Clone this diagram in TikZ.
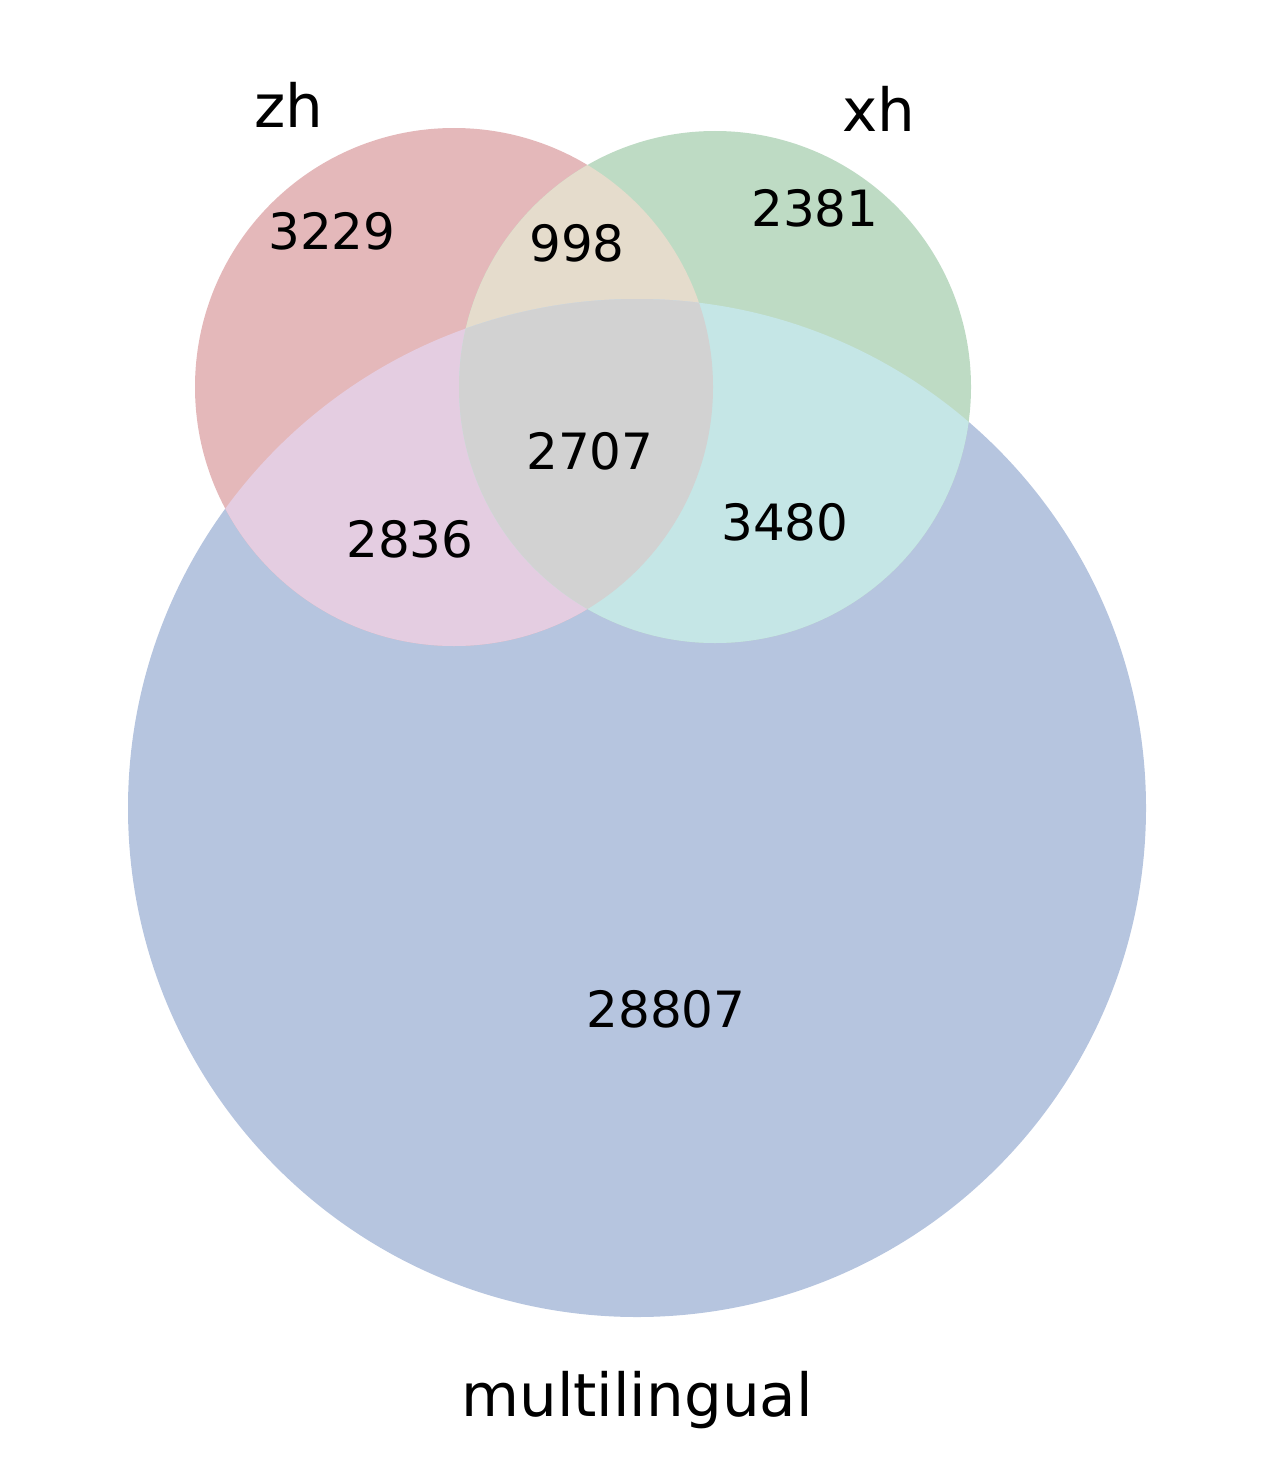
\documentclass[tikz,border=0pt]{standalone}
\usepackage{fontspec}
\setmainfont{DejaVu Sans}
\definecolor{czh}{HTML}{E4B8BA}
\definecolor{cxh}{HTML}{BEDBC4}
\definecolor{cml}{HTML}{B6C5DF}
\definecolor{czx}{HTML}{E5DCCC}
\definecolor{czm}{HTML}{E4CDE1}
\definecolor{cxm}{HTML}{C5E6E6}
\definecolor{call}{HTML}{D2D2D2}
\begin{document}
\begin{tikzpicture}[x=1pt,y=-1pt,
  num/.style={anchor=base,inner sep=0pt,font=\fontsize{50}{60}\selectfont},
  lab/.style={anchor=base,inner sep=0pt,font=\fontsize{59.5}{71}\selectfont}]
\useasboundingbox (0,0) rectangle (1275,1458);
\def\circZ{(454,387) circle[radius=259]}
\def\circX{(715,387) circle[radius=256]}
\def\circM{(637,808) circle[radius=509]}
\fill[cml] \circM;
\fill[czh] \circZ;
\fill[cxh] \circX;
\begin{scope}\clip \circZ; \fill[czx] \circX; \end{scope}
\begin{scope}\clip \circZ; \fill[czm] \circM; \end{scope}
\begin{scope}\clip \circX; \fill[cxm] \circM; \end{scope}
\begin{scope}\clip \circZ; \clip \circX; \fill[call] \circM; \end{scope}
\node[lab] (lzh) at (289,128) {zh};
\node[lab] (lxh) at (879,132) {xh};
\node[lab] (lml) at (637,1416) {multilingual};
\node[num] (n100) at (332,249) {3229};
\node[num] (n110) at (577,261) {998};
\node[num] (n010) at (815,226) {2381};
\node[num] (n111) at (590,469) {2707};
\node[num] (n101) at (410,557) {2836};
\node[num] (n011) at (785,540) {3480};
\node[num] (n001) at (666,1027) {28807};
\end{tikzpicture}
\end{document}
